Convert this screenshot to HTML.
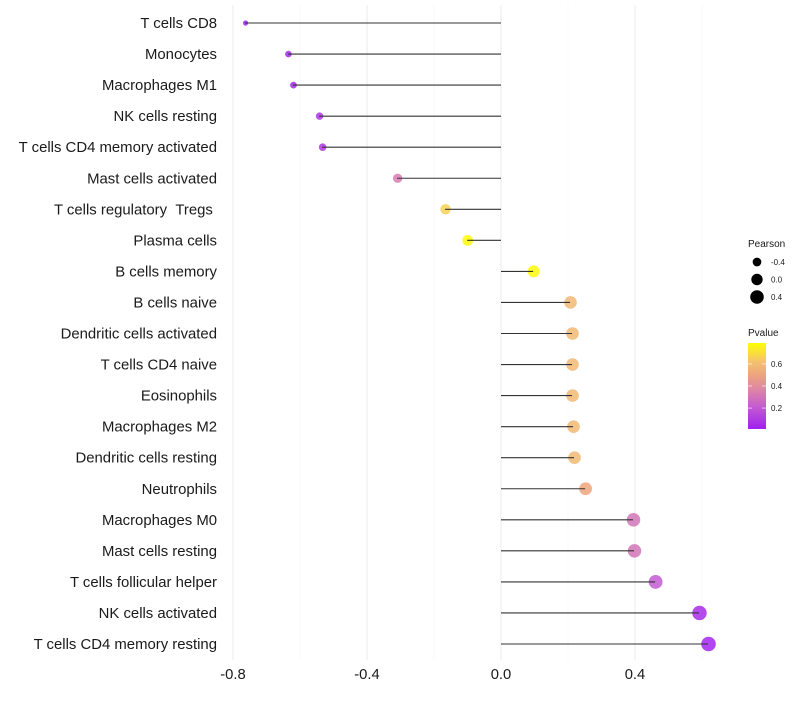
<!DOCTYPE html>
<html><head><meta charset="utf-8"><style>
body{margin:0;background:#fff;font-family:"Liberation Sans",sans-serif}
</style></head><body>
<svg id="chart" width="800" height="700" xmlns="http://www.w3.org/2000/svg"></svg>
<script>
const categories=["T cells CD8","Monocytes","Macrophages M1","NK cells resting","T cells CD4 memory activated","Mast cells activated","T cells regulatory\u00a0\u00a0Tregs\u00a0","Plasma cells","B cells memory","B cells naive","Dendritic cells activated","T cells CD4 naive","Eosinophils","Macrophages M2","Dendritic cells resting","Neutrophils","Macrophages M0","Mast cells resting","T cells follicular helper","NK cells activated","T cells CD4 memory resting"];
const pearson=[-0.764,-0.636,-0.621,-0.543,-0.534,-0.310,-0.167,-0.101,0.096,0.206,0.212,0.212,0.212,0.215,0.218,0.251,0.394,0.397,0.460,0.591,0.618];
const pvalues=[0.0,0.03,0.03,0.08,0.08,0.32,0.66,0.78,0.78,0.58,0.58,0.58,0.58,0.58,0.58,0.5,0.3,0.3,0.2,0.04,0.02];
const xTicks=[-0.8,-0.4,0.0,0.4];
const xTickLabels=["-0.8","-0.4","0.0","0.4"];
const xMinor=[-0.6,-0.2,0.2,0.6];
const sizeLegend=[-0.4,0.0,0.4];
const pTicks=[0.2,0.4,0.6];

const svg=document.getElementById('chart');
const NS="http://www.w3.org/2000/svg";
const x=v=>501+v*335;
const y=i=>23+i*31.05;
const r=v=>Math.max(1.5,Math.sqrt(Math.max(0,10.9+33.8*(v+0.636))));
const stops=[[0,[160,32,240]],[0.2,[195,90,210]],[0.35,[220,130,170]],[0.5,[238,165,125]],[0.62,[243,195,110]],[0.79,[255,255,0]]];
function col(p){p=Math.max(0,Math.min(0.79,p));for(let k=1;k<stops.length;k++){if(p<=stops[k][0]){const a=stops[k-1],b=stops[k],t=(p-a[0])/(b[0]-a[0]);return 'rgb('+a[1].map((c,j)=>Math.round(c+(b[1][j]-c)*t)).join(',')+')';}}return 'rgb(255,255,0)';}
function el(t,a,parent){const e=document.createElementNS(NS,t);for(const k in a)e.setAttribute(k,a[k]);(parent||svg).appendChild(e);return e;}
const yP=p=>429-(p-0.01)/0.78*86;

xMinor.forEach(v=>{const l=el('line',{x1:x(v),x2:x(v),y1:5,y2:660,stroke:'#f4f4f4','stroke-width':0.6});

});
xTicks.forEach((v,i)=>{const l=el('line',{x1:x(v),x2:x(v),y1:5,y2:660,stroke:'#ebebeb','stroke-width':1});


const t=el('text',{x:x(v),y:679,'text-anchor':'middle','font-size':14.8,fill:'#1a1a1a'});t.textContent=xTickLabels[i];

});
categories.forEach((c,i)=>{
const t=el('text',{x:217,y:y(i)+5,'text-anchor':'end','font-size':14.9,fill:'#1a1a1a'});t.textContent=c;


const d=el('circle',{cx:x(pearson[i])+0.5,cy:y(i),r:r(pearson[i]),fill:col(pvalues[i]),'fill-opacity':0.85});


const l=el('line',{x1:x(0),x2:x(pearson[i]),y1:y(i),y2:y(i),stroke:'#333','stroke-width':1.1});


});
let t=el('text',{x:748,y:247,'font-size':10,fill:'#1a1a1a'});t.textContent='Pearson';


sizeLegend.forEach((v,i)=>{const cy=262+i*17.5;
const c=el('circle',{cx:757,cy:cy,r:r(v),fill:'#000'});


const tt=el('text',{x:771,y:cy+3,'font-size':8,fill:'#1a1a1a'});tt.textContent=v.toFixed(1);

});
t=el('text',{x:748,y:336,'font-size':10,fill:'#1a1a1a'});t.textContent='Pvalue';


const defs=el('defs',{});const lg=el('linearGradient',{id:'pg',x1:0,y1:1,x2:0,y2:0},defs);
stops.forEach(s=>el('stop',{offset:(s[0]/0.79),'stop-color':col(s[0])},lg));
const bar=el('rect',{x:748,y:343,width:18,height:86,fill:'url(#pg)'});


pTicks.forEach(p=>{const yy=yP(p);
el('line',{x1:748,x2:752,y1:yy,y2:yy,stroke:'#fff','stroke-width':0.6});
el('line',{x1:762,x2:766,y1:yy,y2:yy,stroke:'#fff','stroke-width':0.6});
const tt=el('text',{x:771,y:yy+3,'font-size':8,fill:'#1a1a1a'});tt.textContent=p.toFixed(1);

});
</script>
</body></html>
